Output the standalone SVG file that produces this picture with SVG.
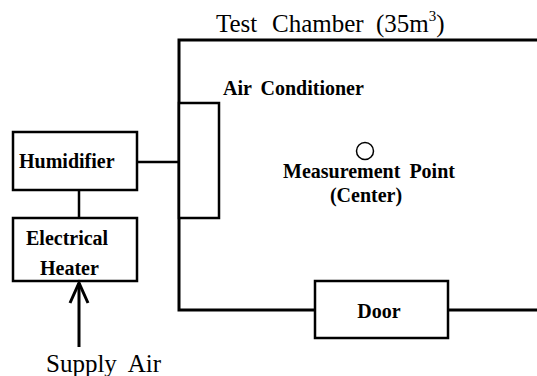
<svg xmlns="http://www.w3.org/2000/svg" width="537" height="376" viewBox="0 0 537 376">
<style>
.box{fill:#fff;stroke:#000;stroke-width:2.5}
.ln{fill:none;stroke:#000;stroke-width:2.5}
.b{font-family:"Liberation Serif","Times New Roman",serif;font-weight:bold;font-size:20px;fill:#000}
.r{font-family:"Liberation Serif","Times New Roman",serif;font-size:25px;fill:#000}
</style>
<rect width="537" height="376" fill="#fff"/>
<g id="chamber">
<path class="ln" d="M537,40 H179 V310 H315 M448,310 H537" style="stroke-width:3"/>
<text class="r" x="216" y="32">Test</text>
<text class="r" x="272" y="32">Chamber</text>
<text class="r" x="376" y="32">(35m<tspan font-size="15" dy="-11">3</tspan><tspan dy="11">)</tspan></text>
</g>
<g id="air-conditioner">
<rect class="box" x="179" y="103" width="40" height="115"/>
<text class="b" x="223" y="95" word-spacing="4">Air Conditioner</text>
</g>
<g id="humidifier">
<rect class="box" x="13" y="132" width="124" height="58"/>
<text class="b" x="19" y="168">Humidifier</text>
</g>
<g id="heater">
<rect class="box" x="13" y="218" width="124" height="63"/>
<text class="b" x="26" y="245">Electrical</text>
<text class="b" x="40" y="275">Heater</text>
</g>
<g id="door">
<rect class="box" x="315" y="281" width="133" height="57"/>
<text class="b" x="379" y="318" text-anchor="middle">Door</text>
</g>
<g id="measurement-point">
<circle cx="365" cy="151" r="8.5" fill="none" stroke="#000" stroke-width="1.5"/>
<text class="b" x="369" y="178" text-anchor="middle" word-spacing="4">Measurement Point</text>
<text class="b" x="366" y="202" text-anchor="middle">(Center)</text>
</g>
<g id="supply-air">
<text class="r" x="46" y="372" word-spacing="6">Supply Air</text>
</g>
<g id="connectors">
<line class="ln" x1="137" y1="162" x2="179" y2="162"/>
<line class="ln" x1="79" y1="190" x2="79" y2="218"/>
<line class="ln" x1="79" y1="347" x2="79" y2="283" style="stroke-width:3"/>
<polyline class="ln" points="70,303 79,283 88,303" style="stroke-width:3"/>
</g>
</svg>
